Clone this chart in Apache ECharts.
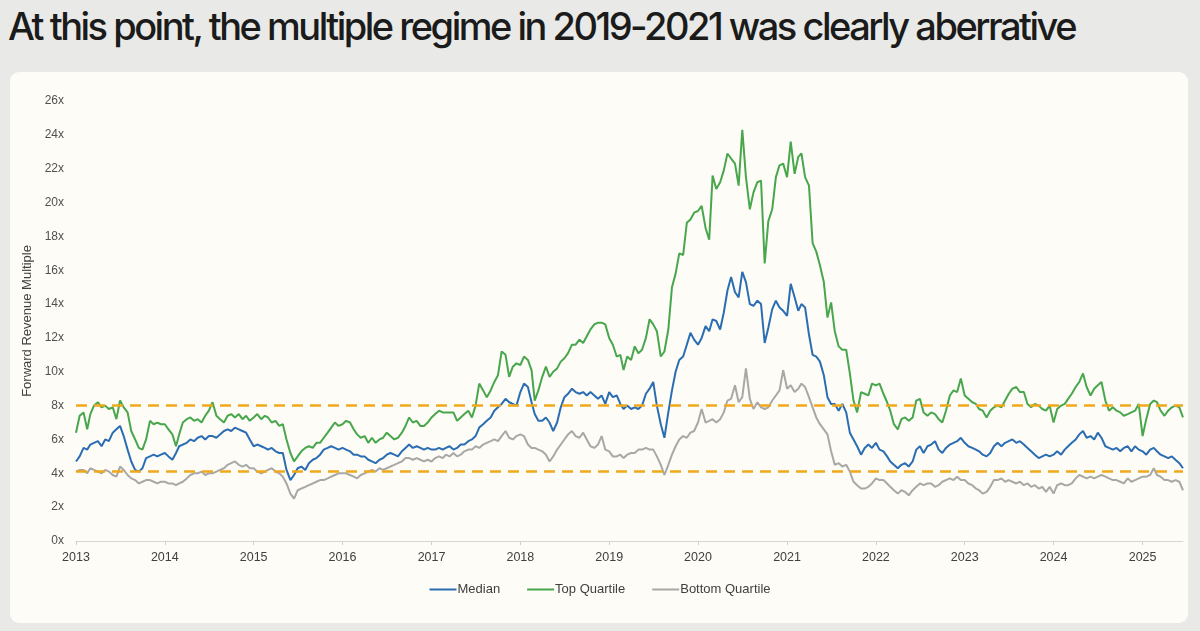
<!DOCTYPE html>
<html>
<head>
<meta charset="utf-8">
<script src="https://cdn.jsdelivr.net/npm/echarts@6/dist/echarts.min.js"></script>
<style>
  html, body { margin: 0; padding: 0; width: 1200px; height: 631px; overflow: hidden; background: #e9eae7; }
  #title { position: absolute; left: 8px; top: 3px; font-family: Inter, "Noto Sans", sans-serif; font-weight: 500; font-size: 38px; letter-spacing: -2.5px; color: #1b1b1b; white-space: nowrap; line-height: 46px; }
  #card { position: absolute; left: 10px; top: 72px; width: 1178px; height: 551px; background: #fdfcf6; border-radius: 9px; }
  #chart { position: absolute; left: 0; top: 0; width: 1200px; height: 631px; }
</style>
</head>
<body>
<div id="title">At this point, the multiple regime in 2019-2021 was clearly aberrative</div>
<div id="card"></div>
<div id="chart"></div>
<script>
// Semi-monthly observations starting 2013-01-01 (1st and 16th of each month)
const startYear = 2013;
const seriesNames = ['Median', 'Top Quartile', 'Bottom Quartile'];
const yTicksSuffix = 'x';
const thresholdHigh = 8.0;
const thresholdLow = 4.1;

const median = [
  4.7,5.0,5.5,5.4,5.7,5.8,5.9,5.6,6.0,5.9,6.4,6.6,6.8,6.2,5.4,4.7,4.2,4.1,4.3,4.9,5.0,5.1,5.0,5.1,
  5.2,5.0,4.8,5.2,5.6,5.7,5.8,6.0,5.9,6.1,6.2,6.0,6.2,6.2,6.1,6.3,6.5,6.6,6.5,6.7,6.6,6.5,6.4,6.0,
  5.6,5.7,5.6,5.5,5.4,5.5,5.3,5.2,5.2,4.2,3.6,3.9,4.3,4.4,4.2,4.6,4.8,4.9,5.1,5.4,5.5,5.6,5.5,5.4,
  5.5,5.4,5.3,5.1,5.1,5.0,5.0,4.8,4.7,4.6,4.8,4.9,5.1,5.2,5.1,5.0,5.3,5.5,5.7,5.5,5.6,5.5,5.4,5.5,
  5.4,5.4,5.5,5.4,5.5,5.6,5.4,5.5,5.7,5.7,5.9,6.0,6.2,6.7,6.9,7.1,7.3,7.7,7.9,8.1,8.4,8.2,8.1,8.0,
  8.8,9.3,9.1,8.2,7.5,7.1,7.1,7.3,7.0,6.5,7.0,7.9,8.5,8.7,9.0,8.8,8.7,8.8,8.6,8.8,8.6,8.4,8.6,8.1,
  8.8,8.5,8.6,8.1,7.8,8.0,7.8,7.9,7.8,8.0,8.7,9.0,9.4,8.0,6.9,6.1,7.6,8.9,10.0,10.7,10.9,11.6,12.3,11.9,
  11.6,12.0,12.7,12.4,13.1,13.0,12.5,13.5,14.8,15.6,14.7,14.4,15.9,15.3,14.0,13.9,14.2,14.0,11.7,12.6,13.7,14.2,13.8,13.6,
  13.3,15.2,14.4,13.6,14.0,13.8,12.2,11.0,10.9,10.6,9.8,8.5,8.1,8.1,7.7,8.1,7.6,6.4,6.0,5.6,5.1,5.5,5.7,5.5,
  5.8,5.4,5.3,5.0,4.7,4.5,4.3,4.5,4.6,4.4,4.7,5.4,5.6,5.2,5.6,5.7,5.9,5.4,5.2,5.5,5.7,5.8,5.9,6.1,
  5.8,5.6,5.5,5.4,5.3,5.1,5.0,5.2,5.6,5.8,5.6,5.8,5.9,6.0,5.8,5.9,5.7,5.5,5.3,5.1,4.9,5.0,5.1,5.0,
  5.1,5.3,5.1,5.4,5.6,5.8,6.0,6.3,6.5,6.1,6.2,6.0,6.4,6.1,5.6,5.5,5.4,5.5,5.3,5.5,5.6,5.3,5.6,5.4,
  5.3,5.1,5.4,5.5,5.3,5.1,5.0,4.9,5.0,4.8,4.6,4.3
];

const topQuartile = [
  6.4,7.4,7.6,6.6,7.5,8.0,8.2,7.9,8.0,7.8,7.9,7.2,8.3,7.9,7.6,6.5,6.0,5.5,5.4,6.0,7.1,6.9,7.0,6.9,
  6.9,6.6,6.3,5.6,6.3,7.0,7.2,7.3,7.1,7.2,7.0,7.4,7.7,8.2,7.4,7.2,7.0,7.4,7.5,7.3,7.5,7.2,7.4,7.1,
  7.3,7.5,7.2,7.4,7.3,7.0,7.1,6.8,6.9,6.0,5.2,4.7,5.0,5.3,5.5,5.6,5.5,5.8,5.8,6.1,6.4,6.7,7.0,6.8,
  6.9,7.1,7.0,6.6,6.3,6.1,6.2,5.8,6.1,5.8,6.0,6.1,6.4,6.2,6.0,6.1,6.4,6.8,7.3,7.0,7.1,6.8,6.8,7.0,
  7.3,7.5,7.7,7.6,7.6,7.6,7.6,7.1,7.3,7.5,7.7,7.3,8.0,9.3,8.9,8.5,8.9,9.4,9.8,11.2,11.0,9.7,10.3,10.5,
  10.4,10.9,10.7,10.1,8.3,8.9,9.7,10.3,9.7,10.0,10.2,10.6,10.8,11.1,11.6,11.6,11.9,11.7,12.1,12.5,12.8,12.9,12.9,12.8,
  12.0,11.6,10.9,11.0,10.1,10.9,10.7,11.5,11.1,11.3,12.0,13.1,12.8,12.4,10.9,11.2,12.5,15.0,15.8,17.0,16.9,18.8,19.0,19.4,
  19.5,19.8,18.5,17.8,21.6,20.8,21.2,21.9,22.9,22.6,22.3,21.0,24.3,21.5,19.6,20.6,21.2,21.3,16.4,18.9,19.6,21.5,22.2,22.3,
  21.5,23.6,21.7,22.7,22.9,21.5,21.0,17.6,17.1,16.3,15.3,13.2,14.1,12.4,11.5,11.3,11.3,9.9,8.3,7.6,8.8,8.7,8.6,9.3,
  9.2,9.3,8.7,8.2,7.7,6.9,6.6,7.2,7.3,7.1,7.3,8.3,8.4,7.6,7.4,7.6,7.5,7.2,7.0,7.7,8.6,8.9,8.8,9.6,
  8.6,8.4,8.2,8.1,7.8,7.7,7.3,7.7,7.9,8.0,7.9,8.3,8.7,9.0,9.1,8.8,8.8,8.1,7.9,8.1,8.0,7.8,7.7,8.0,
  7.0,7.8,8.0,8.1,8.4,8.7,9.1,9.4,9.9,9.1,8.6,9.0,9.2,9.4,8.3,7.7,7.9,7.7,7.6,7.4,7.5,7.6,7.7,8.1,
  6.2,7.2,8.1,8.3,8.2,7.7,7.4,7.7,7.9,8.0,7.9,7.3
];

const bottomQuartile = [
  4.1,4.2,4.2,4.0,4.3,4.2,4.1,4.0,4.2,4.1,3.9,3.8,4.4,4.2,3.9,3.7,3.6,3.4,3.5,3.6,3.6,3.5,3.4,3.5,
  3.5,3.4,3.4,3.3,3.4,3.5,3.7,3.9,4.0,4.0,4.1,3.9,4.0,4.0,4.1,4.2,4.3,4.5,4.6,4.7,4.5,4.4,4.5,4.3,
  4.3,4.1,4.0,4.1,4.2,4.3,4.1,4.0,3.8,3.4,2.8,2.5,3.0,3.1,3.2,3.3,3.4,3.5,3.6,3.6,3.7,3.8,3.9,4.0,
  4.0,4.0,3.9,3.8,3.7,3.9,4.0,4.1,4.2,4.1,4.3,4.2,4.3,4.4,4.5,4.6,4.7,4.9,4.9,4.8,4.9,4.8,4.7,4.8,
  4.7,4.9,5.0,4.9,5.1,5.0,5.2,5.0,5.1,5.3,5.4,5.4,5.6,5.5,5.7,5.8,5.9,6.0,5.9,6.2,6.5,6.1,6.0,6.2,
  6.3,6.2,5.7,5.5,5.5,5.4,5.3,5.1,4.7,5.0,5.4,5.7,6.0,6.3,6.5,6.2,6.1,6.4,6.0,5.6,5.5,5.7,6.2,5.4,
  5.3,5.0,5.0,5.1,4.9,5.1,5.2,5.2,5.4,5.4,5.5,5.4,5.4,5.0,4.5,3.9,4.5,5.1,5.6,6.0,6.2,6.1,6.4,6.5,
  7.0,7.8,7.0,7.1,7.2,7.0,7.2,7.6,8.3,8.4,9.2,8.2,8.5,10.2,8.4,7.8,8.2,7.9,7.8,7.9,8.3,8.6,8.9,10.1,
  9.0,9.2,8.8,9.0,9.3,9.1,8.5,7.9,7.3,6.9,6.6,6.3,5.3,4.5,4.6,4.4,4.5,4.1,3.5,3.3,3.1,3.1,3.2,3.4,
  3.7,3.6,3.6,3.4,3.2,3.0,2.8,3.0,2.9,2.7,3.0,3.2,3.4,3.3,3.4,3.4,3.2,3.3,3.5,3.6,3.7,3.6,3.8,3.6,
  3.6,3.4,3.3,3.1,3.0,2.8,2.9,3.2,3.6,3.6,3.7,3.5,3.6,3.5,3.4,3.5,3.3,3.4,3.2,3.3,3.1,3.2,2.9,3.2,
  2.8,3.3,3.4,3.3,3.3,3.4,3.7,3.9,3.8,3.7,3.8,3.7,3.8,3.9,3.8,3.7,3.6,3.6,3.5,3.4,3.7,3.5,3.6,3.7,
  3.8,3.8,3.9,4.3,3.9,3.8,3.6,3.6,3.5,3.6,3.5,3.0
];

// observation dates: 1st and 16th of each month
const dates = median.map(function (_, i) {
  const y = startYear + Math.floor(i / 24);
  const m = Math.floor((i % 24) / 2);
  const d = (i % 2) ? 16 : 1;
  return Date.UTC(y, m, d);
});
function pairs(arr) { return arr.map(function (v, i) { return [dates[i], v]; }); }

const YEAR = 365.25 * 24 * 3600 * 1000;
const chart = echarts.init(document.getElementById('chart'), null, { renderer: 'canvas' });
const labelFont = '"Liberation Sans", Arial, sans-serif';
const colors = ['#2a6db2', '#48a64c', '#a8a8a6'];

chart.setOption({
  backgroundColor: 'transparent',
  animation: false,
  useUTC: true,
  grid: { left: 76, right: 17, top: 101, bottom: 90, containLabel: false },
  legend: {
    data: seriesNames.map(function (n) { return { name: n, icon: 'rect' }; }),
    left: 'center',
    top: 578,
    itemWidth: 27,
    itemHeight: 2,
    itemGap: 27,
    textStyle: { fontFamily: labelFont, fontSize: 13, color: '#404040', padding: [0, 0, 0, -4] }
  },
  xAxis: {
    type: 'time',
    min: dates[0],
    max: dates[dates.length - 1],
    minInterval: YEAR * 0.99,
    maxInterval: YEAR * 1.01,
    axisLine: { show: true, lineStyle: { color: '#d6d6d2', width: 1 } },
    axisTick: { show: true, length: 4, lineStyle: { color: '#cfcfcb' } },
    splitLine: { show: false },
    axisLabel: {
      formatter: '{yyyy}',
      showMinLabel: true,
      showMaxLabel: false,
      margin: 10,
      fontFamily: labelFont,
      fontSize: 12.5,
      color: '#404040',
      hideOverlap: false
    }
  },
  yAxis: {
    type: 'value',
    min: 0,
    max: 26,
    interval: 2,
    name: 'Forward Revenue Multiple',
    nameLocation: 'middle',
    nameRotate: 90,
    nameGap: 33,
    nameTextStyle: { fontFamily: labelFont, fontSize: 13, color: '#404040' },
    axisLine: { show: false },
    axisTick: { show: false },
    splitLine: { show: false },
    axisLabel: {
      formatter: '{value}' + yTicksSuffix,
      margin: 12,
      fontFamily: labelFont,
      fontSize: 12,
      color: '#505050'
    }
  },
  series: [
    {
      name: seriesNames[0], type: 'line', data: pairs(median), showSymbol: false, symbol: 'none', z: 4,
      lineStyle: { color: colors[0], width: 2 }, itemStyle: { color: colors[0] },
      markLine: {
        silent: true, symbol: ['none', 'none'], label: { show: false },
        lineStyle: { color: '#f0a81c', width: 2.5, type: [11, 7] },
        data: [{ yAxis: thresholdHigh }, { yAxis: thresholdLow }]
      }
    },
    {
      name: seriesNames[1], type: 'line', data: pairs(topQuartile), showSymbol: false, symbol: 'none', z: 3,
      lineStyle: { color: colors[1], width: 2 }, itemStyle: { color: colors[1] }
    },
    {
      name: seriesNames[2], type: 'line', data: pairs(bottomQuartile), showSymbol: false, symbol: 'none', z: 2,
      lineStyle: { color: colors[2], width: 2 }, itemStyle: { color: colors[2] }
    }
  ]
});
</script>
</body>
</html>
